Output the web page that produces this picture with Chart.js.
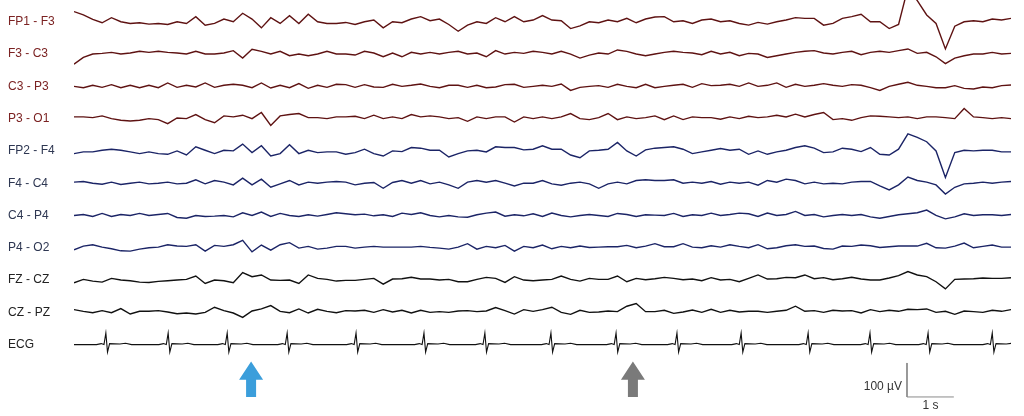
<!DOCTYPE html>
<html>
<head>
<meta charset="utf-8">
<title>EEG montage</title>
<script src="https://cdn.jsdelivr.net/npm/chart.js@4"></script>
<style>
  html, body { margin: 0; padding: 0; background: #fff; }
  #wrap { width: 1024px; height: 416px; }
</style>
</head>
<body>
<div id="wrap"><canvas id="eegChart"></canvas></div>
<script>
// channel names, top to bottom
const channels = ['FP1 - F3', 'F3 - C3', 'C3 - P3', 'P3 - O1', 'FP2 - F4', 'F4 - C4',
                  'C4 - P4', 'P4 - O2', 'FZ - CZ', 'CZ - PZ', 'ECG'];

// EEG samples in µV, one every 0.2 s from 0 to 20 s
const sampleStep = 0.2;
const fp1F3 = [30,20,7,-3,12,0,-5,-3,-7,-5, -8,0,-5,15,-10,-5,8,0,25,8, -18,12,-5,18,-5,22,0,-5,-5,-2,
  -8,0,5,-18,0,-3,8,15,3,8, -8,-28,-10,0,-5,12,0,15,0,5, 18,5,3,-20,-12,0,-3,5,0,10,
  -3,8,14,15,0,3,-5,5,8,0, 3,-5,-10,-2,-7,0,5,12,10,10, -10,-5,10,15,22,0,0,-20,-8,100,
  62,20,-5,-80,-13,0,3,0,8,5, 10];
const f3C3 = [-30,-10,0,2,5,0,3,8,5,8, 5,3,0,8,0,0,3,10,-12,14, 8,0,8,-5,0,-5,0,8,0,0,
  -3,8,3,-8,3,-8,5,0,5,0, 5,8,0,3,-8,10,0,5,2,8, 5,0,8,0,-12,-3,3,0,12,8,
  0,-5,0,5,8,5,3,-2,8,0, 5,-5,2,0,-10,-5,0,5,8,10, 3,0,5,8,-2,5,8,5,10,15,
  2,5,-8,-28,-12,-5,0,0,5,0, 2];
const c3P3 = [0,-4,3,-3,5,-4,3,-4,3,-4, 10,-3,3,-2,10,-3,3,6,3,-4, 10,-5,3,-4,8,-6,3,-3,6,5,
  -3,5,-2,-3,6,0,3,7,0,-4, 3,3,-3,3,-4,-2,5,6,-3,0, 3,0,7,-12,-3,0,2,-3,6,0,
  -4,6,-4,0,3,6,-3,8,2,3, 6,0,10,0,3,10,-3,6,0,3, 8,3,0,5,3,-4,-12,0,6,12,
  3,0,-4,-4,2,-6,-8,-2,-4,2, 4];
const p3O1 = [5,5,3,8,0,-5,-7,-5,0,-3, -15,2,0,12,-3,-12,8,5,10,0, 18,-20,8,12,15,3,3,0,5,5,
  7,0,10,0,5,0,12,5,8,5, 0,3,-8,5,0,5,5,-10,5,0, 5,0,5,15,0,-3,3,15,-3,5,
  0,3,8,-3,8,-3,5,3,3,-2, 5,0,7,3,5,10,5,13,5,12, 18,-3,0,-5,3,8,7,5,3,5,
  0,5,5,3,0,30,5,3,0,3, 0];
const fp2F4 = [-8,-3,-3,2,5,2,-3,-8,-3,-8, -10,0,-12,12,2,-8,2,0,20,-5, 15,-15,-8,18,-8,2,-5,-3,-3,-10,
  -5,5,-8,-15,0,-2,10,8,2,2, -18,-8,0,2,-3,12,10,10,3,5, 15,5,5,-12,-20,0,2,5,25,0,
  -15,3,8,10,12,5,-8,-3,2,7, 2,5,-10,0,-10,-3,2,10,15,8, -5,-3,8,5,-2,10,-10,-12,5,50,
  40,27,0,-78,-5,2,0,2,2,-3, -3];
const f4C4 = [3,5,0,-3,3,-4,0,3,-2,0, 3,-2,0,10,-2,8,3,-5,15,-5, 12,-12,-2,8,-5,3,0,3,5,3,
  -5,0,2,-15,2,8,0,8,-2,3, -5,-15,3,8,3,8,0,-8,0,0, 8,-2,-6,0,3,-2,-15,-2,3,-2,
  8,10,8,8,10,0,3,0,5,-3, 3,0,3,-6,8,3,12,8,-2,3, -2,0,-2,3,5,5,-8,-20,-5,18,
  8,3,-5,-32,-12,-2,0,3,0,3, 5];
const c4P4 = [0,3,-3,6,-3,3,0,6,0,3, 6,-6,-8,0,-3,-2,0,-4,8,0, 10,-3,6,0,-3,2,-2,3,8,5,
  2,4,-1,2,-3,7,3,8,0,-4, 0,-4,-5,2,7,10,-2,2,-1,5, -3,7,0,-4,0,3,0,-3,6,3,
  -3,2,1,0,6,-3,2,0,7,0, 3,7,5,-3,7,0,3,12,0,3, -4,0,3,0,3,-4,-8,-3,2,5,
  8,16,0,-10,-4,5,0,2,2,0, 3];
const p4O2 = [-6,5,9,2,-3,-9,-10,-4,0,2, 9,5,4,9,-10,7,4,9,22,-12, 8,-7,9,15,-1,4,-4,-1,4,4,
  -1,2,4,2,2,2,2,4,1,-1, -4,2,12,-4,4,0,7,-10,4,0, 8,-3,4,0,5,1,2,3,3,7,
  0,5,12,3,3,12,2,0,6,2, 9,4,0,9,-3,0,6,9,4,5, -2,-4,5,4,8,6,1,3,5,5,
  5,13,0,-1,5,14,0,4,8,2, 2];
const fzCz = [-8,2,-3,-6,5,0,-2,-6,-7,-4, -2,0,2,12,-10,0,-2,-8,22,10, 15,0,-1,0,-10,15,5,2,-3,-1,
  -1,2,5,-12,3,4,8,3,3,0, 2,-5,-5,2,8,5,-7,10,0,-2, 0,2,12,2,-3,5,2,2,12,-5,
  5,1,4,8,5,1,3,-2,7,0, 2,-5,5,15,3,4,8,7,15,4, 7,1,4,8,3,0,0,6,13,25,
  15,10,-5,-26,2,3,4,6,5,5, 7];
const czPz = [8,3,-1,5,-1,11,-5,3,3,5, 1,-4,-2,-5,0,15,5,-2,-15,4, 10,20,3,-1,10,-2,9,3,-1,5,
  4,6,0,8,1,6,-2,6,0,2, 0,4,5,2,4,14,5,-5,8,3, 8,15,0,-6,6,0,1,4,2,18,
  26,2,2,6,-3,1,7,0,9,0, 6,1,3,3,0,3,6,18,3,5, 0,6,4,5,-2,8,2,6,3,9,
  8,10,0,3,-6,4,2,0,6,3, 8];

// ECG: R-peak times (s) and the beat shape around each R peak
const ecgBeats = [0.68, 2.01, 3.27, 4.55, 6.02, 7.47, 8.77, 10.18, 11.57, 12.87, 14.24, 15.67, 16.99, 18.23, 19.60];
const qrsOffsets = [-0.2, -0.1, -0.04, 0, 0.035, 0.08, 0.3, 0.42, 0.55];
const qrsValues  = [0, 3, 0, 34, -22, 3, 2, 4, 0];

// markers under the traces
const arrowTimes = [3.78, 11.93];
const scaleBarTime = 17.78;   // s
const scaleBarLength = 1;     // s
const scaleBarAmp = 100;      // µV

const channelGap = 95;        // µV between rows
const labelColors = ['#7b2222','#7b2222','#7b2222','#7b2222','#2e3752','#2e3752','#2e3752','#2e3752','#222','#222','#222'];
const traceColors = ['#5e1212','#5e1212','#5e1212','#5e1212','#1b2466','#1b2466','#1b2466','#1b2466','#111','#111','#111'];
const arrowColors = ['#3b9edb', '#7a7a7a'];

const eegSeries = [fp1F3, f3C3, c3P3, p3O1, fp2F4, f4C4, c4P4, p4O2, fzCz, czPz];

function eegPoints(values, row) {
  return values.map((v, k) => ({ x: k * sampleStep, y: v - row * channelGap }));
}

function ecgPoints(row) {
  const pts = [{ x: 0, y: -row * channelGap }];
  ecgBeats.forEach(r => {
    qrsOffsets.forEach((o, j) => pts.push({ x: r + o, y: qrsValues[j] - row * channelGap }));
  });
  pts.push({ x: 20, y: -row * channelGap });
  return pts;
}

const datasets = eegSeries.map((vals, i) => ({
  label: channels[i],
  data: eegPoints(vals, i),
  borderColor: traceColors[i],
  borderWidth: 1.4,
  pointRadius: 0,
  tension: 0
}));
datasets.push({
  label: 'ECG',
  data: ecgPoints(10),
  borderColor: traceColors[10],
  borderWidth: 1.1,
  pointRadius: 0,
  tension: 0
});

const barBase = -10 * channelGap - 54;
datasets.push({
  label: 'scale',
  data: [
    { x: scaleBarTime, y: barBase },
    { x: scaleBarTime, y: barBase - scaleBarAmp },
    { x: scaleBarTime + scaleBarLength, y: barBase - scaleBarAmp }
  ],
  borderColor: '#8a8a8a',
  borderWidth: 1,
  pointRadius: 0,
  tension: 0
});

const marksPlugin = {
  id: 'eegMarks',
  afterDatasetsDraw(chart) {
    const { ctx, scales: { x, y } } = chart;
    ctx.save();
    // arrows
    const top = y.getPixelForValue(barBase + 4);
    const neck = y.getPixelForValue(barBase - 49);
    const bottom = y.getPixelForValue(barBase - scaleBarAmp);
    arrowTimes.forEach((t, i) => {
      const cx = x.getPixelForValue(t);
      ctx.fillStyle = arrowColors[i];
      ctx.beginPath();
      ctx.moveTo(cx, top);
      ctx.lineTo(cx + 12, neck);
      ctx.lineTo(cx + 5, neck);
      ctx.lineTo(cx + 5, bottom);
      ctx.lineTo(cx - 5, bottom);
      ctx.lineTo(cx - 5, neck);
      ctx.lineTo(cx - 12, neck);
      ctx.closePath();
      ctx.fill();
    });
    // scale bar text
    ctx.fillStyle = '#333';
    ctx.font = '12px "Liberation Sans", Arial, sans-serif';
    ctx.textBaseline = 'middle';
    ctx.textAlign = 'right';
    ctx.fillText(scaleBarAmp + ' µV', x.getPixelForValue(scaleBarTime) - 5, y.getPixelForValue(barBase - 70));
    ctx.textAlign = 'center';
    ctx.fillText(scaleBarLength + ' s', x.getPixelForValue(scaleBarTime + scaleBarLength / 2),
                 y.getPixelForValue(barBase - scaleBarAmp) + 9);
    ctx.restore();
  }
};

new Chart(document.getElementById('eegChart'), {
  type: 'line',
  data: { datasets },
  options: {
    responsive: true,
    maintainAspectRatio: false,
    animation: false,
    layout: { padding: { left: 8, right: 13, top: 0, bottom: 0 } },
    plugins: { legend: { display: false }, tooltip: { enabled: false } },
    scales: {
      x: { type: 'linear', min: 0, max: 20, display: false },
      y: {
        type: 'linear',
        min: -1160,
        max: 64,
        grid: { display: false },
        border: { display: false },
        afterFit(scale) {
          // fixed label column, no extra room above/below the first/last label
          scale.width = 66;
          scale.paddingTop = 0;
          scale.paddingBottom = 0;
        },
        afterBuildTicks(scale) {
          scale.ticks = channels.map((_, i) => ({ value: -i * channelGap }));
        },
        ticks: {
          autoSkip: false,
          crossAlign: 'far',
          padding: 0,
          font: { family: '"Liberation Sans", Arial, sans-serif', size: 12 },
          color: (c) => labelColors[c.index],
          callback: (value, index) => channels[index]
        }
      }
    }
  },
  plugins: [marksPlugin]
});
</script>
</body>
</html>
